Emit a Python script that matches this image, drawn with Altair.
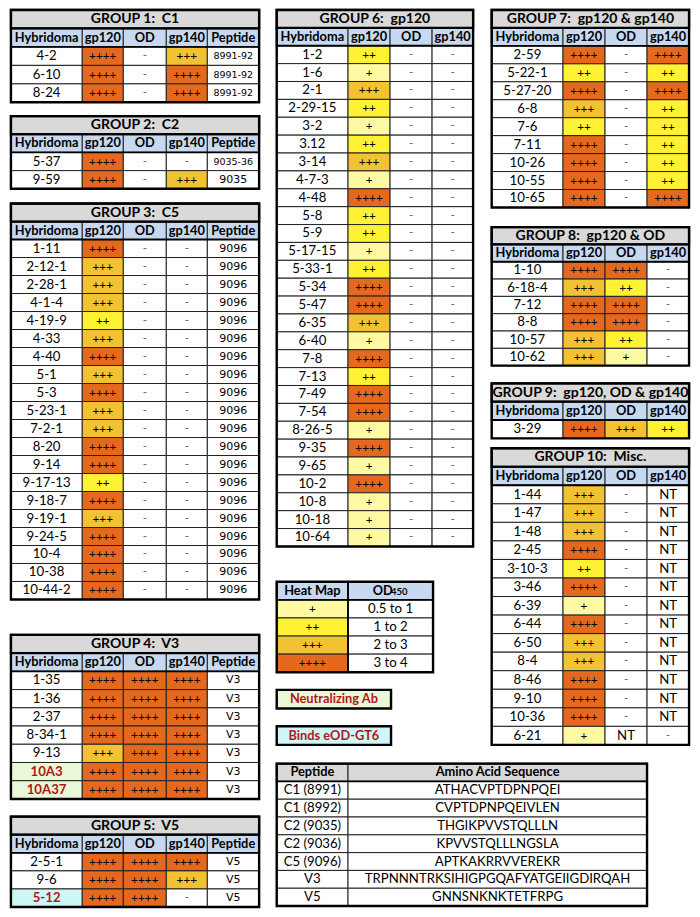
import altair as alt
import pandas as pd

# ------------------------------------------------------------------ data
HEAD5 = ["Hybridoma", "gp120", "OD", "gp140", "Peptide"]
HEAD4 = ["Hybridoma", "gp120", "OD", "gp140"]

NB = "\u00a0"  # keeps the double space after the colon visible

G1_TITLE = "GROUP 1:" + NB + " C1"
G1_HYB = ["4-2", "6-10", "8-24"]
G1_GP120 = ["++++", "++++", "++++"]
G1_OD = ["-", "-", "-"]
G1_GP140 = ["+++", "++++", "++++"]
G1_PEP = ["8991-92", "8991-92", "8991-92"]

G2_TITLE = "GROUP 2:" + NB + " C2"
G2_HYB = ["5-37", "9-59"]
G2_GP120 = ["++++", "++++"]
G2_OD = ["-", "-"]
G2_GP140 = ["-", "+++"]
G2_PEP = ["9035-36", "9035"]

G3_TITLE = "GROUP 3:" + NB + " C5"
G3_HYB = ["1-11", "2-12-1", "2-28-1", "4-1-4", "4-19-9", "4-33", "4-40", "5-1", "5-3",
          "5-23-1", "7-2-1", "8-20", "9-14", "9-17-13", "9-18-7", "9-19-1", "9-24-5",
          "10-4", "10-38", "10-44-2"]
G3_GP120 = ["++++", "+++", "+++", "+++", "++", "+++", "++++", "+++", "++++", "+++", "+++",
            "++++", "++++", "++", "++++", "+++", "++++", "++++", "++++", "++++"]
G3_OD = ["-"] * 20
G3_GP140 = ["-"] * 20
G3_PEP = ["9096"] * 20

G4_TITLE = "GROUP 4:" + NB + " V3"
G4_HYB = ["1-35", "1-36", "2-37", "8-34-1", "9-13", "10A3", "10A37"]
G4_GP120 = ["++++", "++++", "++++", "++++", "+++", "++++", "++++"]
G4_OD = ["++++"] * 7
G4_GP140 = ["++++"] * 7
G4_PEP = ["V3"] * 7

G5_TITLE = "GROUP 5:" + NB + " V5"
G5_HYB = ["2-5-1", "9-6", "5-12"]
G5_GP120 = ["++++", "++++", "++++"]
G5_OD = ["++++", "++++", "++++"]
G5_GP140 = ["++++", "+++", "-"]
G5_PEP = ["V5", "V5", "V5"]

G6_TITLE = "GROUP 6:" + NB + " gp120"
G6_HYB = ["1-2", "1-6", "2-1", "2-29-15", "3-2", "3.12", "3-14", "4-7-3", "4-48", "5-8",
          "5-9", "5-17-15", "5-33-1", "5-34", "5-47", "6-35", "6-40", "7-8", "7-13", "7-49",
          "7-54", "8-26-5", "9-35", "9-65", "10-2", "10-8", "10-18", "10-64"]
G6_GP120 = ["++", "+", "+++", "++", "+", "++", "+++", "+", "++++", "++", "++", "+", "++",
            "++++", "++++", "+++", "+", "++++", "++", "++++", "++++", "+", "++++", "+",
            "++++", "+", "+", "+"]
G6_OD = ["-"] * 28
G6_GP140 = ["-"] * 28

G7_TITLE = "GROUP 7:" + NB + " gp120 & gp140"
G7_HYB = ["2-59", "5-22-1", "5-27-20", "6-8", "7-6", "7-11", "10-26", "10-55", "10-65"]
G7_GP120 = ["++++", "++", "++++", "+++", "++", "++++", "++++", "++++", "++++"]
G7_OD = ["-"] * 9
G7_GP140 = ["++++", "++", "++++", "++", "++", "++", "++", "++", "++++"]

G8_TITLE = "GROUP 8:" + NB + " gp120 & OD"
G8_HYB = ["1-10", "6-18-4", "7-12", "8-8", "10-57", "10-62"]
G8_GP120 = ["++++", "+++", "++++", "++++", "+++", "+++"]
G8_OD = ["++++", "++", "++++", "++++", "++", "+"]
G8_GP140 = ["-"] * 6

G9_TITLE = "GROUP 9:" + NB + " gp120, OD & gp140"
G9_HYB = ["3-29"]
G9_GP120 = ["++++"]
G9_OD = ["+++"]
G9_GP140 = ["++"]

G10_TITLE = "GROUP 10:" + NB + " Misc."
G10_HYB = ["1-44", "1-47", "1-48", "2-45", "3-10-3", "3-46", "6-39", "6-44", "6-50", "8-4",
           "8-46", "9-10", "10-36", "6-21"]
G10_GP120 = ["+++", "+++", "+++", "++++", "++", "++++", "+", "++++", "+++", "+++", "++++",
             "++++", "++++", "+"]
G10_OD = ["-"] * 13 + ["NT"]
G10_GP140 = ["NT"] * 13 + ["-"]

HEAT_HEAD = ["Heat Map", "OD", "450"]
HEAT_SYMBOLS = ["+", "++", "+++", "++++"]
HEAT_RANGES = ["0.5 to 1", "1 to 2", "2 to 3", "3 to 4"]

NEUTRALIZING = ["10A3", "10A37"]
EOD_BINDERS = ["5-12"]
NEUTRAL_LABEL = "Neutralizing Ab"
EOD_LABEL = "Binds eOD-GT6"

PEP_HEAD = ["Peptide", "Amino Acid Sequence"]
PEP_NAMES = ["C1 (8991)", "C1 (8992)", "C2 (9035)", "C2 (9036)", "C5 (9096)", "V3", "V5"]
PEP_SEQS = ["ATHACVPTDPNPQEI", "CVPTDPNPQEIVLEN", "THGIKPVVSTQLLLN", "KPVVSTQLLLNGSLA",
            "APTKAKRRVVEREKR", "TRPNNNTRKSIHIGPGQAFYATGEIIGDIRQAH", "GNNSNKNKTETFRPG"]

# ------------------------------------------------------------------ styles
LEVEL_FILL = {"+": "#FFF9A3", "++": "#FFF133", "+++": "#F3C232", "++++": "#E4691E"}
TITLE_BG = "#D9D9D9"
HEADER_BG = "#C6D9F1"
GREEN_BG = "#E9F8D6"
CYAN_BG = "#CFF7F8"
RED = "#B3151B"
FONT = "Lato"
PEP_FONT = "DejaVu Sans"

# layout (reference pixel grid 700 x 917)
LX = [3, 76, 118, 162, 204, 257]
MX = [275, 348, 391, 434, 476]
RX = [495, 568, 611, 654, 697]

rects, borders, texts = [], [], []


def add_text(x, y, t, size=13.0, bold=False, color="#000000", font=FONT):
    texts.append(dict(x=x, y=y, t=t, size=size, bold=bold, color=color, font=font))


def add_table(title, headers, cols, xs, top, bottom, pep_col=False):
    n = len(cols[0])
    nrows = n + (2 if title else 1)
    h = (bottom - top) / nrows
    y = top
    if title:
        rects.append(dict(x=xs[0], x2=xs[-1], y=y, y2=y + h, fill=TITLE_BG, sw=1))
        borders.append(dict(x=xs[0], x2=xs[-1], y=y, y2=y + h, sw=2.2))
        add_text((xs[0] + xs[-1]) / 2, y + h / 2, title, 14, True)
        y += h
    head_bg = HEADER_BG if title else TITLE_BG
    for j, lab in enumerate(headers):
        rects.append(dict(x=xs[j], x2=xs[j + 1], y=y, y2=y + h, fill=head_bg, sw=1))
        add_text((xs[j] + xs[j + 1]) / 2, y + h / 2, lab, 12.8, True)
    borders.append(dict(x=xs[0], x2=xs[-1], y=y, y2=y + h, sw=1.8))
    y += h
    for i in range(n):
        for j, col in enumerate(cols):
            v = col[i]
            fill = LEVEL_FILL.get(v, "#FFFFFF") if j > 0 else "#FFFFFF"
            color, bold, size, font = "#000000", False, 13.2, FONT
            if j == 0 and v in NEUTRALIZING:
                fill, color, bold = GREEN_BG, RED, True
            if j == 0 and v in EOD_BINDERS:
                fill, color, bold = CYAN_BG, RED, True
            if v in LEVEL_FILL:
                size = 11.8
            if v == "-":
                color, size = "#666666", 11.5
            if pep_col and j == len(cols) - 1:
                font = PEP_FONT
                size = 9.5 if "-" in v else 11
            rects.append(dict(x=xs[j], x2=xs[j + 1], y=y, y2=y + h, fill=fill, sw=1))
            add_text((xs[j] + xs[j + 1]) / 2, y + h / 2, v, size, bold, color, font)
        y += h
    borders.append(dict(x=xs[0], x2=xs[-1], y=top, y2=bottom, sw=2.4))


add_table(G1_TITLE, HEAD5, [G1_HYB, G1_GP120, G1_OD, G1_GP140, G1_PEP], LX, 2, 96, True)
add_table(G2_TITLE, HEAD5, [G2_HYB, G2_GP120, G2_OD, G2_GP140, G2_PEP], LX, 110, 184, True)
add_table(G3_TITLE, HEAD5, [G3_HYB, G3_GP120, G3_OD, G3_GP140, G3_PEP], LX, 199, 602, True)
add_table(G4_TITLE, HEAD5, [G4_HYB, G4_GP120, G4_OD, G4_GP140, G4_PEP], LX, 638, 805, True)
add_table(G5_TITLE, HEAD5, [G5_HYB, G5_GP120, G5_OD, G5_GP140, G5_PEP], LX, 823, 915, True)
add_table(G6_TITLE, HEAD4, [G6_HYB, G6_GP120, G6_OD, G6_GP140], MX, 2, 548)
add_table(G7_TITLE, HEAD4, [G7_HYB, G7_GP120, G7_OD, G7_GP140], RX, 2, 203)
add_table(G8_TITLE, HEAD4, [G8_HYB, G8_GP120, G8_OD, G8_GP140], RX, 223, 364)
add_table(G9_TITLE, HEAD4, [G9_HYB, G9_GP120, G9_OD, G9_GP140], RX, 382, 438)
add_table(G10_TITLE, HEAD4, [G10_HYB, G10_GP120, G10_OD, G10_GP140], RX, 448, 750)


def add_legend(xs, top, bottom):
    n = len(HEAT_SYMBOLS)
    h = (bottom - top) / (n + 1)
    cx0, cx1 = (xs[0] + xs[1]) / 2, (xs[1] + xs[2]) / 2
    rects.append(dict(x=xs[0], x2=xs[1], y=top, y2=top + h, fill=HEADER_BG, sw=1))
    rects.append(dict(x=xs[1], x2=xs[2], y=top, y2=top + h, fill=HEADER_BG, sw=1))
    add_text(cx0, top + h / 2, HEAT_HEAD[0], 12.8, True)
    add_text(cx1 - 8, top + h / 2, HEAT_HEAD[1], 12.8, True)
    add_text(cx1 + 9, top + h / 2 + 1.5, HEAT_HEAD[2], 9.5, True)
    borders.append(dict(x=xs[0], x2=xs[2], y=top, y2=top + h, sw=1.8))
    for i, (s, r) in enumerate(zip(HEAT_SYMBOLS, HEAT_RANGES)):
        y = top + h * (i + 1)
        rects.append(dict(x=xs[0], x2=xs[1], y=y, y2=y + h, fill=LEVEL_FILL[s], sw=1))
        rects.append(dict(x=xs[1], x2=xs[2], y=y, y2=y + h, fill="#FFFFFF", sw=1))
        add_text(cx0, y + h / 2, s, 11.8)
        add_text(cx1, y + h / 2, r, 13.2)
    borders.append(dict(x=xs[0], x2=xs[2], y=top, y2=bottom, sw=2.4))
    borders.append(dict(x=xs[1], x2=xs[1], y=top, y2=bottom, sw=1.8))


add_legend([275, 348, 435], 584, 676)


def add_badge(label, fill, x0, x1, top, bottom):
    rects.append(dict(x=x0, x2=x1, y=top, y2=bottom, fill=fill, sw=1))
    borders.append(dict(x=x0, x2=x1, y=top, y2=bottom, sw=2.4))
    add_text((x0 + x1) / 2, (top + bottom) / 2, label, 12.8, True, RED)


add_badge(NEUTRAL_LABEL, GREEN_BG, 275, 392, 694, 713)
add_badge(EOD_LABEL, CYAN_BG, 275, 392, 731, 750)

add_table(None, PEP_HEAD, [PEP_NAMES, PEP_SEQS], [275, 348, 654], 769, 914)

# ------------------------------------------------------------------ chart
rect_df = pd.DataFrame(rects)
border_df = pd.DataFrame(borders)
text_df = pd.DataFrame(texts)

xs = alt.Scale(domain=[0, 700], nice=False, zero=False)
ys = alt.Scale(domain=[0, 917], nice=False, zero=False, reverse=True)

X = alt.X("x:Q", scale=xs, axis=None)
Y = alt.Y("y:Q", scale=ys, axis=None)

cells = alt.Chart(rect_df).mark_rect(stroke="#222222").encode(
    x=X, x2="x2:Q", y=Y, y2="y2:Q",
    fill=alt.Fill("fill:N", scale=None),
    strokeWidth=alt.StrokeWidth("sw:Q", scale=None),
)

frames = alt.Chart(border_df).mark_rect(fillOpacity=0, stroke="#000000").encode(
    x=X, x2="x2:Q", y=Y, y2="y2:Q",
    strokeWidth=alt.StrokeWidth("sw:Q", scale=None),
)


def text_layer(df, font, weight):
    return alt.Chart(df).mark_text(
        font=font, baseline="middle", align="center", fontWeight=weight
    ).encode(
        x=X, y=Y, text="t:N",
        size=alt.Size("size:Q", scale=None),
        color=alt.Color("color:N", scale=None),
    )


layers = [cells, frames]
for font in [FONT, PEP_FONT]:
    for b in [False, True]:
        sub = text_df[(text_df["font"] == font) & (text_df["bold"] == b)]
        if len(sub):
            layers.append(text_layer(sub, font, "bold" if b else "normal"))

chart = alt.layer(*layers).properties(
    width=684, height=901, padding=0,
    autosize=alt.AutoSizeParams(type="fit", contains="padding"),
).configure_view(stroke=None)

chart.save("out.html", embed_options={"renderer": "svg", "actions": False})
